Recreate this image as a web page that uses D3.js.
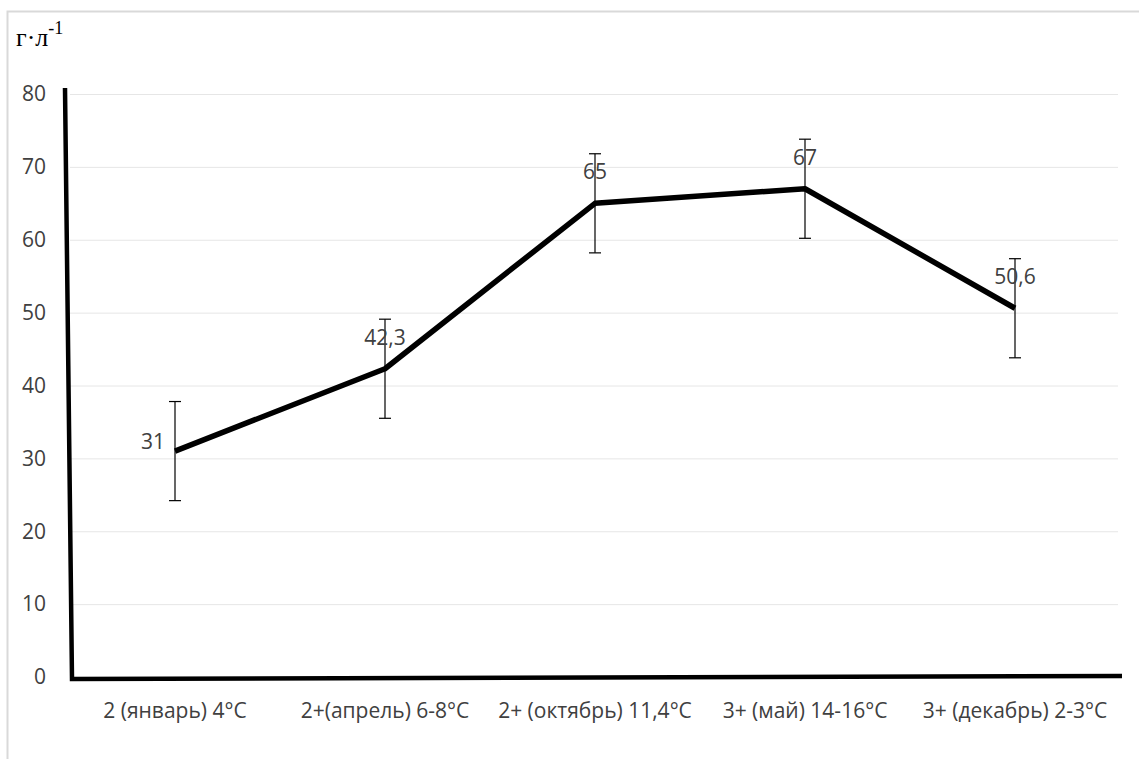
<!DOCTYPE html>
<html>
<head>
<meta charset="utf-8">
<script src="https://cdn.jsdelivr.net/npm/d3@7"></script>
<style>
  body { margin: 0; background: #fff; }
  svg { display: block; }
</style>
</head>
<body>
<div id="viz-container"></div>
<script>
// Данные графика
const categories = ['2 (январь) 4°C', '2+(апрель) 6-8°C', '2+ (октябрь) 11,4°C', '3+ (май) 14-16°C', '3+ (декабрь) 2-3°C'];
const values = [31, 42.3, 65, 67, 50.6];
const valueLabels = ['31', '42,3', '65', '67', '50,6'];
const errors = [6.8, 6.8, 6.8, 6.8, 6.8];
const yTicks = [0, 10, 20, 30, 40, 50, 60, 70, 80];

const W = 1139, H = 759;
const margin = { top: 94, right: 19, bottom: 82, left: 70 };
const font = '"Open Sans", sans-serif';

const svg = d3.select('#viz-container')
  .append('svg')
  .attr('width', W)
  .attr('height', H);

// Рамка (сверху и слева)
svg.append('path')
  .attr('d', `M7.5,${H} V11.5 H${W}`)
  .attr('fill', 'none')
  .attr('stroke', '#d9d9d9')
  .attr('stroke-width', 2);

const x = d3.scaleBand()
  .domain(categories)
  .range([margin.left, W - margin.right]);

const y = d3.scaleLinear()
  .domain([0, 80])
  .range([H - margin.bottom, margin.top]);

// Сетка
svg.append('g')
  .selectAll('line')
  .data(yTicks.filter(d => d > 0))
  .enter()
  .append('line')
  .attr('x1', margin.left)
  .attr('x2', W - margin.right - 2)
  .attr('y1', d => y(d) + 0.5)
  .attr('y2', d => y(d) + 0.5)
  .attr('stroke', '#e6e6e6')
  .attr('stroke-width', 1);

// Подписи оси Y
svg.append('g')
  .selectAll('text')
  .data(yTicks)
  .enter()
  .append('text')
  .attr('x', 46)
  .attr('y', d => y(d))
  .attr('dy', '0.35em')
  .attr('text-anchor', 'end')
  .style('font-family', font)
  .style('font-size', '21px')
  .style('fill', '#404040')
  .text(d => d);

// Подписи оси X
svg.append('g')
  .selectAll('text')
  .data(categories)
  .enter()
  .append('text')
  .attr('x', d => x(d) + x.bandwidth() / 2)
  .attr('y', H - margin.bottom + 41)
  .attr('text-anchor', 'middle')
  .style('font-family', font)
  .style('font-size', '21px')
  .style('fill', '#404040')
  .text(d => d);

// Оси (нарисованы от руки — слегка наклонные)
svg.append('path')
  .attr('d', `M65,${y(80) - 6} L72,${y(0) + 2} L${W - 17},${y(0) - 1}`)
  .attr('fill', 'none')
  .attr('stroke', '#000')
  .attr('stroke-width', 4.5)
  .attr('stroke-linejoin', 'miter');

// Планки погрешностей
const cx = (d, i) => x(categories[i]) + x.bandwidth() / 2;
const eb = svg.append('g').attr('stroke', '#000').attr('stroke-width', 1.2);
values.forEach((v, i) => {
  const px = cx(v, i);
  eb.append('line')
    .attr('x1', px).attr('x2', px)
    .attr('y1', y(v + errors[i])).attr('y2', y(v - errors[i]));
  [v + errors[i], v - errors[i]].forEach(e => {
    eb.append('line')
      .attr('x1', px - 6).attr('x2', px + 6)
      .attr('y1', y(e)).attr('y2', y(e));
  });
});

// Линия
const line = d3.line()
  .x(cx)
  .y(d => y(d));

svg.append('path')
  .attr('d', line(values))
  .attr('fill', 'none')
  .attr('stroke', '#000')
  .attr('stroke-width', 5.5)
  .attr('stroke-linejoin', 'round');

// Подписи значений
svg.append('g')
  .selectAll('text')
  .data(values)
  .enter()
  .append('text')
  .attr('x', (d, i) => i === 0 ? cx(d, i) - 10 : cx(d, i))
  .attr('y', (d, i) => i === 0 ? y(d) - 2 : y(d) - 24)
  .attr('text-anchor', (d, i) => i === 0 ? 'end' : 'middle')
  .style('font-family', font)
  .style('font-size', '21px')
  .style('fill', '#404040')
  .text((d, i) => valueLabels[i]);

// Единицы измерения
const unit = svg.append('text')
  .attr('x', 16)
  .attr('y', 46)
  .style('font-family', '"Liberation Serif", "DejaVu Serif", serif')
  .style('font-size', '26px')
  .style('fill', '#000');
unit.append('tspan').text('г·л');
unit.append('tspan').attr('dy', -12).style('font-size', '18px').text('-1');
</script>
</body>
</html>
